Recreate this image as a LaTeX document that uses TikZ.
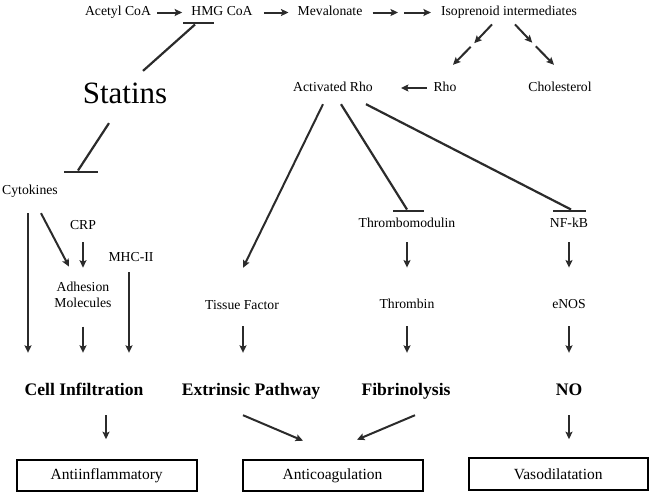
\documentclass[tikz,border=0pt]{standalone}
\usepackage{fontspec}
\setmainfont{Liberation Serif}
\usetikzlibrary{arrows.meta}
\definecolor{lc}{HTML}{2B2B2B}
\tikzset{
  txt/.style={inner sep=0pt, font=\fontsize{13.7}{16}\selectfont, text height=9.5pt, text depth=3pt},
  twoline/.style={inner sep=0pt, font=\fontsize{13.7}{15.6}\selectfont, align=center},
  bold/.style={inner sep=0pt, font=\fontsize{17.6}{20}\selectfont\bfseries, text height=12pt, text depth=4pt},
  big/.style={inner sep=0pt, font=\fontsize{31}{36}\selectfont},
  boxed/.style={draw=black, line width=2pt, inner sep=0pt, font=\fontsize{15.5}{18}\selectfont},
  barnode/.style={rectangle, fill=lc, inner sep=0pt, minimum height=2.6pt},
  arr/.style={draw=lc, line width=2pt, -{Stealth[length=7.5pt,width=7pt,inset=1.5pt]}},
  inh/.style={draw=lc, line width=2.2pt},
}
\begin{document}
\begin{tikzpicture}[x=1pt,y=-1pt]
\useasboundingbox (0,0) rectangle (656,498);
% top row
\node[txt] (acetyl) at (118,12.5) {Acetyl CoA};
\node[txt] (hmg) at (222,12.5) {HMG CoA};
\node[txt] (meva) at (330,12.5) {Mevalonate};
\node[txt] (iso) at (509,12.5) {Isoprenoid intermediates};
\coordinate (mi) at (401,12.5);
\coordinate (il) at (472.5,45);
\coordinate (ir) at (534,44.5);
% second row
\node[txt] (actrho) at (333,88) {Activated Rho};
\node[txt] (rho) at (445,88) {Rho};
\node[txt] (chol) at (560,88) {Cholesterol};
\node[big] (statins) at (125,93.5) {Statins};
% bars
\node[barnode, minimum width=31pt] (hbar) at (198.5,23) {};
\node[barnode, minimum width=34pt] (cbar) at (81,172) {};
\node[barnode, minimum width=31pt] (tmbar) at (408.5,211) {};
\node[barnode, minimum width=33pt] (nbar) at (569.5,211) {};
% left column
\node[txt] (cyto) at (30,191) {Cytokines};
\node[txt] (crp) at (83,226) {CRP};
\node[txt] (mhc) at (131,258) {MHC-II};
\node[twoline] (adh) at (83,295) {Adhesion\\Molecules};
% middle / right
\node[txt] (tf) at (242,306) {Tissue Factor};
\node[txt] (tm) at (407,224) {Thrombomodulin};
\node[txt] (thrombin) at (407,305) {Thrombin};
\node[txt] (nfkb) at (569,224) {NF-kB};
\node[txt] (enos) at (569,305) {eNOS};
% bold row
\node[bold] (cellinf) at (84,391) {Cell Infiltration};
\node[bold] (extr) at (251,391) {Extrinsic Pathway};
\node[bold] (fib) at (406,391) {Fibrinolysis};
\node[bold] (no) at (569,391) {NO};
% boxes
\node[boxed, minimum width=180pt, minimum height=31.6pt] (antiinf) at (106.7,475.5) {Antiinflammatory};
\node[boxed, minimum width=180pt, minimum height=31.6pt] (anticoag) at (332.5,475.5) {Anticoagulation};
\node[boxed, minimum width=179pt, minimum height=31.6pt] (vaso) at (558.2,474) {Vasodilatation};

% top pathway
\draw[arr, shorten <=6pt, shorten >=9pt] (acetyl) -- (hmg);
\draw[arr, shorten <=11pt, shorten >=9pt] (hmg) -- (meva);
\draw[arr, shorten <=10pt, shorten >=3pt] (meva) -- (mi);
\draw[arr, shorten <=3pt, shorten >=10pt] (mi) -- (iso);
\draw[arr, shorten >=2.5pt] ([shift={(-17,5.5)}]iso.south) -- (il);
\draw[arr, shorten <=2.5pt] (il) -- ([shift={(8,-16.75)}]rho.north);
\draw[arr, shorten >=2.5pt] ([shift={(6,5.5)}]iso.south) -- (ir);
\draw[arr, shorten <=2.5pt] (ir) -- ([shift={(-6,-16.75)}]chol.north);
\draw[arr, shorten <=6.5pt, shorten >=28pt] (rho) -- (actrho);

% statins inhibitions
\draw[inh] ([shift={(18,-12)}]statins.north) -- ([xshift=-3.5pt]hbar.south);
\draw[inh] ([shift={(-16,19)}]statins.south) -- ([xshift=-3pt]cbar.north);

% left branch
\draw[arr] ([shift={(-2,15.75)}]cyto.south) -- ([shift={(-56,-30)}]cellinf.north);
\draw[arr] ([shift={(11,15.75)}]cyto.south) -- ([shift={(-14,-15.6)}]adh.north);
\draw[arr, shorten <=10pt, shorten >=14.5pt] (crp.south) -- (adh.north);
\draw[arr] ([shift={(-2,7.75)}]mhc.south) -- ([shift={(45,-30)}]cellinf.north);
\draw[arr] ([shift={(0,18.7)}]adh.south) -- ([shift={(-1,-30)}]cellinf.north);
\draw[arr] ([shift={(22,16)}]cellinf.south) -- ([shift={(-0.7,-19.5)}]antiinf.north);

% activated Rho branches
\draw[arr] ([shift={(-10,9.75)}]actrho.south) -- ([shift={(1,-31.75)}]tf.north);
\draw[inh] ([shift={(8,9.75)}]actrho.south) -- ([xshift=-1.5pt]tmbar.north);
\draw[inh] ([shift={(33,9.75)}]actrho.south) -- ([xshift=1.5pt]nbar.north);

% middle columns
\draw[arr] ([shift={(1,13.75)}]tf.south) -- ([shift={(-8,-30)}]extr.north);
\draw[arr, shorten <=12pt, shorten >=31pt] (tm.south) -- (tm.south |- thrombin.north);
\draw[arr, shorten <=14.75pt, shorten >=30pt] (thrombin.south) -- (thrombin.south |- fib.north);
\draw[arr, shorten <=12pt, shorten >=31pt] (nfkb.south) -- (nfkb.south |- enos.north);
\draw[arr, shorten <=14.75pt, shorten >=30pt] (enos.south) -- (enos.south |- no.north);
\draw[arr, shorten <=16pt, shorten >=18pt] (no.south) -- (no.south |- vaso.north);
\draw[arr] ([shift={(-8,16)}]extr.south) -- ([shift={(-29.5,-18)}]anticoag.north);
\draw[arr] ([shift={(9,16)}]fib.south) -- ([shift={(24.5,-19)}]anticoag.north);
\end{tikzpicture}
\end{document}
